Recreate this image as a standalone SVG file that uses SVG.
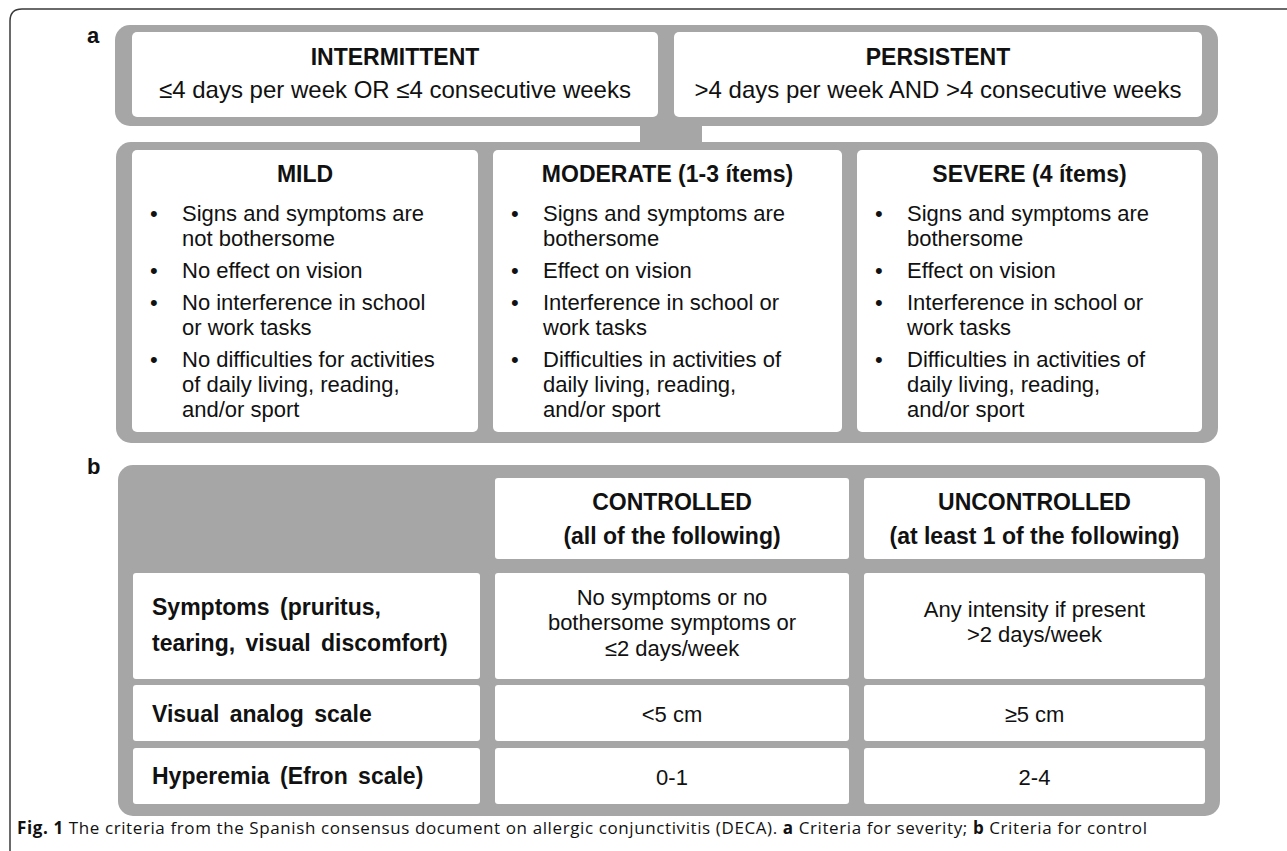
<svg xmlns="http://www.w3.org/2000/svg" width="1287" height="851" viewBox="0 0 1287 851">
<style>
.frame{fill:none;stroke:#3a3a3a;stroke-width:1.5}
.panel{fill:#a6a6a6}
.box{fill:#ffffff}
text{font-family:"Liberation Sans",Arial,sans-serif;fill:#111}
.lbl{font-size:22px;font-weight:bold}
.ttl{font-size:23px;font-weight:bold;text-anchor:middle}
.sub{font-size:24px;text-anchor:middle}
.bl{font-size:22px}
.hd{font-size:23px;font-weight:bold;text-anchor:middle}
.rl{font-size:23px;font-weight:bold;word-spacing:4px}
.cv{font-size:22px;text-anchor:middle}
.cap{font-family:"Open Sans","Noto Sans",sans-serif;font-size:17px}
</style>
<rect width="1287" height="851" fill="#fff"/>
<path class="frame" d="M10,851 V21 Q10,9 22,9 H1287"/>
<text class="lbl" x="87" y="43">a</text>
<text class="lbl" x="87" y="474">b</text>

<g id="connectors">
<rect class="panel" x="640" y="118" width="62" height="32"/>
</g>

<g id="frequency-panel">
<rect class="panel" x="115" y="25" width="1103" height="101" rx="15"/>
<g id="intermittent">
<rect class="box" x="132" y="32" width="526" height="85" rx="5"/>
<text class="ttl" x="395" y="65">INTERMITTENT</text>
<text class="sub" x="395" y="98">≤4 days per week OR ≤4 consecutive weeks</text>
</g>
<g id="persistent">
<rect class="box" x="674" y="32" width="528" height="85" rx="5"/>
<text class="ttl" x="938" y="65">PERSISTENT</text>
<text class="sub" x="938" y="98">&gt;4 days per week AND &gt;4 consecutive weeks</text>
</g>
</g>

<g id="severity-panel">
<rect class="panel" x="116" y="142" width="1102" height="301" rx="15"/>
<g id="mild">
<rect class="box" x="132" y="150" width="346" height="282" rx="5"/>
<text class="ttl" x="305" y="182">MILD</text>
<g class="bl">
<text x="150" y="221">•</text><text x="182" y="221">Signs and symptoms are</text>
<text x="182" y="246">not bothersome</text>
<text x="150" y="278">•</text><text x="182" y="278">No effect on vision</text>
<text x="150" y="310">•</text><text x="182" y="310">No interference in school</text>
<text x="182" y="335">or work tasks</text>
<text x="150" y="367">•</text><text x="182" y="367">No difficulties for activities</text>
<text x="182" y="392">of daily living, reading,</text>
<text x="182" y="417">and/or sport</text>
</g>
</g>
<g id="moderate">
<rect class="box" x="493" y="150" width="349" height="282" rx="5"/>
<text class="ttl" x="667.5" y="182">MODERATE (1-3 ítems)</text>
<g class="bl">
<text x="511" y="221">•</text><text x="543" y="221">Signs and symptoms are</text>
<text x="543" y="246">bothersome</text>
<text x="511" y="278">•</text><text x="543" y="278">Effect on vision</text>
<text x="511" y="310">•</text><text x="543" y="310">Interference in school or</text>
<text x="543" y="335">work tasks</text>
<text x="511" y="367">•</text><text x="543" y="367">Difficulties in activities of</text>
<text x="543" y="392">daily living, reading,</text>
<text x="543" y="417">and/or sport</text>
</g>
</g>
<g id="severe">
<rect class="box" x="857" y="150" width="345" height="282" rx="5"/>
<text class="ttl" x="1029.5" y="182">SEVERE (4 ítems)</text>
<g class="bl">
<text x="875" y="221">•</text><text x="907" y="221">Signs and symptoms are</text>
<text x="907" y="246">bothersome</text>
<text x="875" y="278">•</text><text x="907" y="278">Effect on vision</text>
<text x="875" y="310">•</text><text x="907" y="310">Interference in school or</text>
<text x="907" y="335">work tasks</text>
<text x="875" y="367">•</text><text x="907" y="367">Difficulties in activities of</text>
<text x="907" y="392">daily living, reading,</text>
<text x="907" y="417">and/or sport</text>
</g>
</g>
</g>

<g id="control-panel">
<rect class="panel" x="118" y="465" width="1102" height="351" rx="15"/>
<g id="controlled-header">
<rect class="box" x="495" y="478" width="354" height="81" rx="3"/>
<text class="hd" x="672" y="510">CONTROLLED</text>
<text class="hd" x="672" y="544">(all of the following)</text>
</g>
<g id="uncontrolled-header">
<rect class="box" x="864" y="478" width="341" height="81" rx="3"/>
<text class="hd" x="1034.5" y="510">UNCONTROLLED</text>
<text class="hd" x="1034.5" y="544">(at least 1 of the following)</text>
</g>
<g id="symptoms-row">
<rect class="box" x="133" y="573" width="347" height="106" rx="3"/>
<text class="rl" x="152" y="615">Symptoms (pruritus,</text>
<text class="rl" x="152" y="651">tearing, visual discomfort)</text>
<rect class="box" x="495" y="573" width="354" height="106" rx="3"/>
<text class="cv" x="672" y="605">No symptoms or no</text>
<text class="cv" x="672" y="630">bothersome symptoms or</text>
<text class="cv" x="672" y="656">≤2 days/week</text>
<rect class="box" x="864" y="573" width="341" height="106" rx="3"/>
<text class="cv" x="1034.5" y="617">Any intensity if present</text>
<text class="cv" x="1034.5" y="642">&gt;2 days/week</text>
</g>
<g id="vas-row">
<rect class="box" x="133" y="685" width="347" height="56" rx="3"/>
<text class="rl" x="152" y="722">Visual analog scale</text>
<rect class="box" x="495" y="685" width="354" height="56" rx="3"/>
<text class="cv" x="672" y="722">&lt;5 cm</text>
<rect class="box" x="864" y="685" width="341" height="56" rx="3"/>
<text class="cv" x="1034.5" y="722">≥5 cm</text>
</g>
<g id="hyperemia-row">
<rect class="box" x="133" y="748" width="347" height="56" rx="3"/>
<text class="rl" x="152" y="784">Hyperemia (Efron scale)</text>
<rect class="box" x="495" y="748" width="354" height="56" rx="3"/>
<text class="cv" x="672" y="785">0-1</text>
<rect class="box" x="864" y="748" width="341" height="56" rx="3"/>
<text class="cv" x="1034.5" y="785">2-4</text>
</g>
</g>

<text class="cap" x="17" y="834" textLength="1130" lengthAdjust="spacing"><tspan font-weight="bold">Fig. 1</tspan>  The criteria from the Spanish consensus document on allergic conjunctivitis (DECA). <tspan font-weight="bold">a</tspan> Criteria for severity; <tspan font-weight="bold">b</tspan> Criteria for control</text>
</svg>
